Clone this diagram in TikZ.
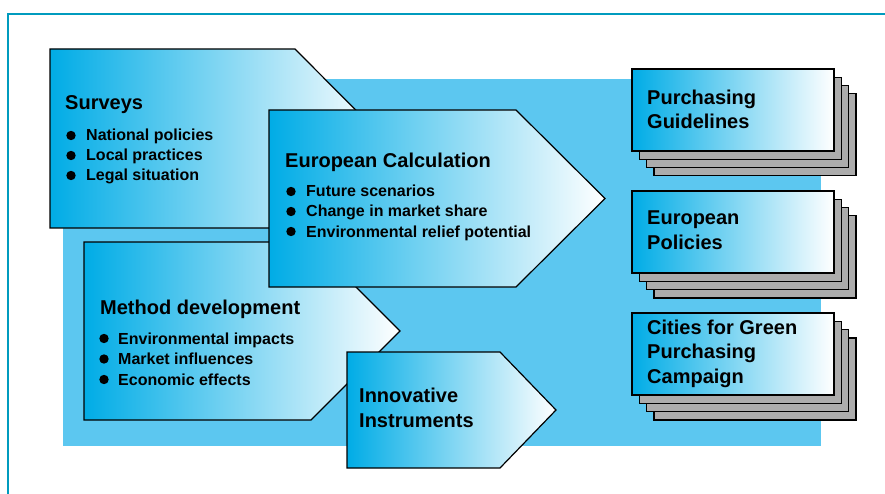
\documentclass[tikz,border=0pt]{standalone}
\usepackage{fontspec}
\setmainfont{Liberation Sans}

\definecolor{boxcyan}{RGB}{0,172,230}
\definecolor{backblue}{RGB}{92,199,240}
\definecolor{frameteal}{RGB}{0,155,190}
\definecolor{sheetgray}{RGB}{172,172,172}

\begin{document}
\begin{tikzpicture}[x=1pt, y=-1pt,
		stage/.style={draw=black, line width=1.2pt, line join=miter, left color=boxcyan, right color=white},
		sheet/.style={draw=black, line width=1.2pt, fill=sheetgray},
		head/.style={anchor=base west, inner sep=0, align=left, font=\fontsize{20}{24.5}\selectfont\bfseries},
		item/.style={anchor=base west, inner sep=0, font=\fontsize{16}{19}\selectfont\bfseries}]
		\useasboundingbox (0,0) rectangle (885,494);

		% frame and backdrop
		\draw[frameteal, line width=2.2pt] (8,500) -- (8,14) -- (890,14);
		\fill[backblue] (63,79) rectangle (821,446);

		% stage arrows
		\draw[stage] (50,49) -- (295,49) -- (384,138.5) -- (295,228) -- (50,228) -- cycle;
		\draw[stage] (84,242) -- (311,242) -- (400,331) -- (311,420) -- (84,420) -- cycle;
		\draw[stage] (269,110) -- (516,110) -- (605,198.5) -- (516,287) -- (269,287) -- cycle;
		\draw[stage] (347,352) -- (500,352) -- (556,410) -- (500,468) -- (347,468) -- cycle;

		\node[head] (surveys) at (65,110) {Surveys};
		\foreach \txt [count=\i] in {National policies, Local practices, Legal situation} {
			\node[item] (sv\i) at (86,121+20*\i) {\txt};
			\fill ([xshift=-15pt,yshift=5.5pt]sv\i.base west) circle (4.7pt);
		}

		\node[head] (calc) at (285,168) {European Calculation};
		\foreach \txt [count=\i] in {Future scenarios, Change in market share, Environmental relief potential} {
			\node[item] (ec\i) at (306,177+20*\i) {\txt};
			\fill ([xshift=-15pt,yshift=5.5pt]ec\i.base west) circle (4.7pt);
		}

		\node[head] (method) at (100,314) {Method development};
		\foreach \txt [count=\i] in {Environmental impacts, Market influences, Economic effects} {
			\node[item] (md\i) at (118,323.5+20.5*\i) {\txt};
			\fill ([xshift=-14pt,yshift=5.5pt]md\i.base west) circle (4.7pt);
		}

		% multi-line heads sit on their last baseline
		\node[head] (instr) at (359,427) {Innovative\\Instruments};

		% result stacks
		\foreach \y in {69,191,313} {
			\foreach \k in {3,2,1}
				\draw[sheet] (632+7.3*\k,\y+8.3*\k) rectangle ++(202,82);
			\draw[stage] (632,\y) rectangle ++(202,82);
		}
		\node[head] (guide) at (647,129) {Purchasing\\Guidelines};
		\node[head] (policy) at (647,249) {European\\Policies};
		\node[head] (cities) at (647,383) {Cities for Green\\Purchasing\\Campaign};
	\end{tikzpicture}
\end{document}
